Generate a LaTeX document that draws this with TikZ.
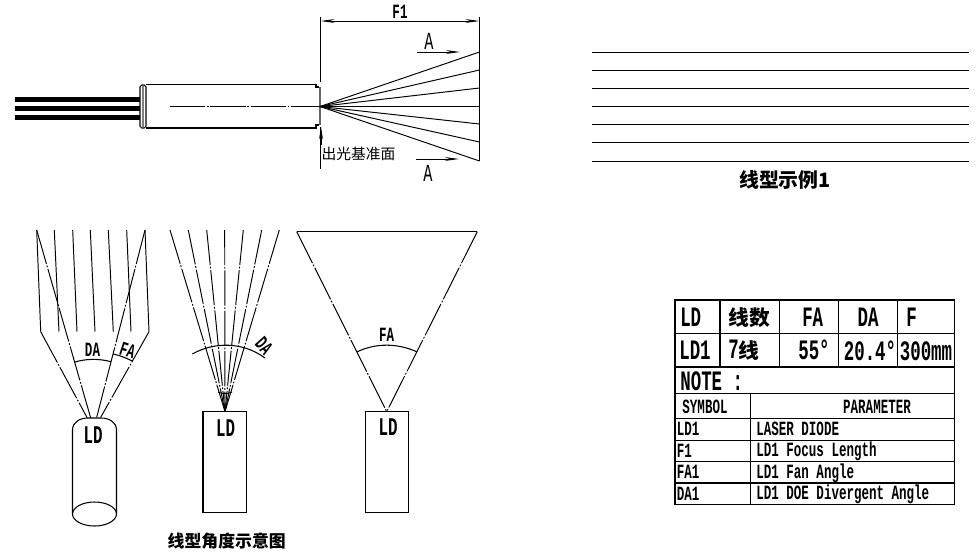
\documentclass[tikz,border=0pt]{standalone}
\usepackage{fontspec}
\usetikzlibrary{arrows.meta}
\newfontfamily\cadfont[FakeStretch=0.62]{Liberation Mono}
\newfontfamily\cjk{Noto Sans CJK SC}
\tikzset{
	part/.style={line width=.6pt},
	ray/.style={line width=.55pt},
	axis/.style={line width=.55pt,dash pattern=on 20pt off 1pt on 1pt off 1pt},
	tip/.style={-{Stealth[length=8pt,width=2.2pt]}},
	lbl/.style={font=\cadfont\bfseries\fontsize{11.5}{11.5}\selectfont,inner sep=0pt},
	lbllarge/.style={font=\cadfont\bfseries\fontsize{14.5}{14.5}\selectfont,inner sep=0pt},
	lblcell/.style={font=\cadfont\bfseries\fontsize{16}{16}\selectfont,inner sep=0pt},
	lblsection/.style={font=\cadfont\fontsize{14}{14}\selectfont,inner sep=0pt},
	lblcn/.style={font=\cjk\bfseries\fontsize{11.3}{11.3}\selectfont,inner sep=0pt},
	lbltitle/.style={font=\cjk\bfseries\fontsize{9.6}{9.6}\selectfont,inner sep=0pt},
	lblcell cn/.style={font=\cjk\bfseries\fontsize{11.8}{11.8}\selectfont,inner sep=0pt}
}
\begin{document}
\begin{tikzpicture}[x=0.02cm,y=-0.02cm]
\useasboundingbox (0,0) rectangle (979,555);

% module side view
\foreach \y in {99.5,108.5,117.5}
{
	\draw[line width=2.9pt] (15,\y) -- (140,\y);
}
\draw[part,rounded corners=1pt] (140,85) rectangle (146,128);
\draw[line width=1.3pt,gray] (143,86) -- (143,127);
\draw[part] (146,84.5) -- (316,84.5) -- (316,87) -- (319,87);
\draw[part] (146,128) -- (316,128) -- (316,125) -- (319,125);
\draw[line width=1.5pt,black!60] (320,87) -- (320,125);
\draw[axis] (170,106.5) -- (320,106.5);

\coordinate (apex) at (320,106.5);
\foreach \y in {52,70,88,106.5,124,142,161}
{
	\draw[ray] (apex) -- (479.5,\y);
}
\draw[part] (479.5,17) -- (479.5,161);
\draw[ray] (320.5,17) -- (320.5,82);
\draw[ray] (320.5,127) -- (320.5,169);
\draw[ray,{Stealth[length=8pt,width=2.2pt]}-{Stealth[length=8pt,width=2.2pt]}] (320.5,21) -- (479.5,21);
\node[lbl] (f1) at (400,12) {F1};

\draw[ray,tip] (417,52) -- (460,52);
\draw[ray,tip] (416,159) -- (459,159);
\node[lblsection] (atop) at (429,41) {A};
\node[lblsection] (abottom) at (428,173) {A};
\draw[ray,{Stealth[length=7pt,width=2.2pt]}-] (321,127) -- (321,145);
\node[font=\cjk\fontsize{8.4}{8.4}\selectfont,inner sep=0pt] (datum) at (358.5,154) {出光基准面};

% line pattern
\foreach \y in {52,70,88,106.5,124.5,142.5,161}
{
	\draw[ray] (592,\y) -- (969,\y);
}
\node[lblcn] (sample) at (785,180) {线型示例1};

% cylinder with fan and divergence
\foreach \a/\b in {36.7/40.7,54.3/59,72.7/77,90.3/95,108.3/113.3,126.7/131,145/149}
{
	\draw[ray] (\a,230) -- (\b,331.7);
}
\draw[axis] (40.7,331.7) -- (87.3,418);
\draw[axis] (149,331.7) -- (100.7,417.3);
\draw[axis] (36.7,230) -- (90.7,418);
\draw[axis] (145,230) -- (96.7,417.3);
\draw[part] (74,362.3) .. controls (86,358.5) and (99,358.5) .. (111,361.7);
\draw[part] (113.3,354) .. controls (120,355.5) and (126,358) .. (132.3,361);
\node[lbl] (da1) at (92.5,350) {DA};
\node[lbl,rotate=-18] (fa1) at (127.7,350) {FA};
\draw[part] (72.5,514) -- (72.5,430) .. controls (72.5,422) and (80,418) .. (88,418) -- (101,418) .. controls (109,418) and (116.5,422) .. (116.5,430) -- (116.5,514);
\draw[part] (94.5,514) ellipse (22 and 12);
\node[lbllarge] (ld1) at (93,435) {LD};

% rectangle with divergence
\coordinate (apexb) at (225,411.7);
\foreach \x in {170,188.3,206.7,224.7,243.3,261.7,279.3}
{
	\draw[axis] (\x,230) -- (apexb);
}
\draw[part] (192.3,354) .. controls (215.3,341.1) and (243.8,342.3) .. (265,358);
\draw[ray] (218,392) .. controls (222,394) and (228,394) .. (232,392);
\draw[part] (203,411.7) rectangle (246.7,512.7);
\node[lbl,rotate=-48] (da2) at (264,346) {DA};
\node[lbllarge] (ld2) at (225.7,428) {LD};
\node[lbltitle] (angles) at (226.7,541.5) {线型角度示意图};

% rectangle with fan
\coordinate (apexc) at (386.7,411.7);
\draw[part] (296.7,231.7) -- (477.3,231.7);
\draw[axis] (296.7,231.7) -- (apexc);
\draw[axis] (477.3,231.7) -- (apexc);
\draw[part] (357.3,351.7) .. controls (376,343) and (397,343) .. (416.7,351.7);
\draw[part] (365.3,411.7) rectangle (408.7,512.7);
\node[lbl] (fa2) at (386.7,335) {FA};
\node[lbllarge] (ld3) at (388,427) {LD};

% table
\draw[part] (675,300) rectangle (954.7,504.3);
\foreach \y in {333.3,393.3,418.7,440.3,461.7,483}
{
	\draw[part] (675,\y) -- (954.7,\y);
}
\draw[line width=1pt] (675,366.7) -- (954.7,366.7);
\foreach \x in {720,779.3,838.3,897.7}
{
	\draw[part] (\x,300) -- (\x,366.7);
}
\draw[part] (750.7,393.3) -- (750.7,504.3);

\node[lblcell] (hld) at (690.7,317) {LD};
\node[lblcell cn] (hnum) at (749.3,317.5) {线数};
\node[lblcell] (hfa) at (812.7,317) {FA};
\node[lblcell] (hda) at (868,317) {DA};
\node[lblcell] (hf) at (911.7,317) {F};
\node[lblcell] (vld) at (695,350) {LD1};
\node[lblcell] (vnum) at (744,350) {7{\cjk\bfseries\fontsize{11.8}{11.8}\selectfont 线}};
\node[lblcell] (vfa) at (814,350) {55°};
\node[lblcell] (vda) at (870,351) {20.4°};
\node[lblcell] (vf) at (926,351) {300mm};
\node[lblcell] (note) at (711.7,381.5) {NOTE :};
\node[lbl] (symbol) at (705,407) {SYMBOL};
\node[lbl] (param) at (877,407) {PARAMETER};
\node[lbl,anchor=west] (sld) at (676.5,428.5) {LD1};
\node[lbl,anchor=west] (sf) at (676.5,451) {F1};
\node[lbl,anchor=west] (sfa) at (676.5,472) {FA1};
\node[lbl,anchor=west] (sda) at (676.5,493.5) {DA1};
\node[lbl,anchor=west] (pld) at (756,429) {LASER DIODE};
\node[lbl,anchor=west] (pf) at (756,451.5) {LD1 Focus Length};
\node[lbl,anchor=west] (pfa) at (756,473) {LD1 Fan Angle};
\node[lbl,anchor=west] (pda) at (756,494) {LD1 DOE Divergent Angle};

\end{tikzpicture}
\end{document}
